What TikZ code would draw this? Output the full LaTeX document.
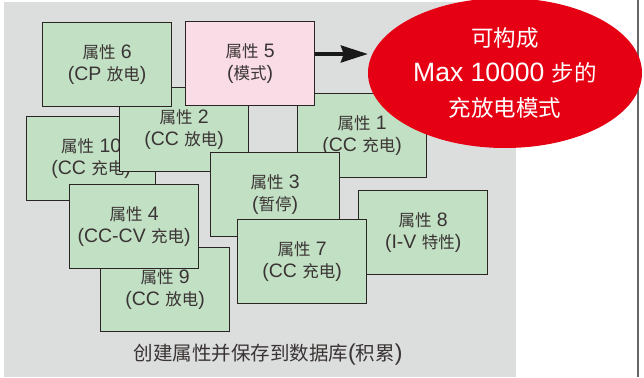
\documentclass[tikz,border=0pt]{standalone}
\usepackage{fontspec}
\setmainfont{Noto Sans CJK SC}
\newfontfamily\latn[Scale=1.18]{Liberation Sans}
\newcommand\lt[1]{{\latn #1}}
\usetikzlibrary{arrows.meta,shapes.geometric}
\definecolor{bggray}{HTML}{DCDDDD}
\definecolor{boxgreen}{HTML}{C2E0C4}
\definecolor{boxpink}{HTML}{F9DCE6}
\definecolor{edge}{HTML}{2B2424}
\definecolor{txt}{HTML}{3A3434}
\definecolor{bigred}{HTML}{E60014}
\tikzset{
  attr/.style={draw=edge, line width=1.3pt, fill=boxgreen, anchor=north west,
    minimum width=129pt, minimum height=84pt, inner sep=0pt, align=center,
    text=txt, font=\fontsize{16.5}{22}\selectfont},
  modebox/.style={attr, fill=boxpink},
  bigarrow/.style={draw=black!90, line width=3.5pt, -{Stealth[length=27pt,width=17pt,inset=3pt]}},
}
\begin{document}
\begin{tikzpicture}[x=1pt,y=-1pt]
\useasboundingbox (0,0) rectangle (644,377);
\fill[white] (0,0) rectangle (644,377);
\fill[bggray] (4,2) rectangle (516,377);
\draw[gray!80!black, line width=1.3pt] (638,0) -- (638,377);
\node[attr] (b10) at (26,116) {属性\lt{ 10}\\\lt{(CC }充电\lt{)}};
\node[attr] (b1) at (297,93) {属性\lt{ 1}\\\lt{(CC }充电\lt{)}};
\node[attr] (b2) at (119,87) {属性\lt{ 2}\\\lt{(CC }放电\lt{)}};
\node[attr] (b6) at (42,22) {属性\lt{ 6}\\\lt{(CP }放电\lt{)}};
\node[modebox] (b5) at (185,21) {属性\lt{ 5}\\\lt{(}模式\lt{)}};
\node[attr] (b3) at (210,152) {属性\lt{ 3}\\\lt{(}暂停\lt{)}};
\node[attr] (b8) at (358,190) {属性\lt{ 8}\\\lt{(I-V }特性\lt{)}};
\node[attr] (b7) at (237,219) {属性\lt{ 7}\\\lt{(CC }充电\lt{)}};
\node[attr] (b9) at (100,247) {属性\lt{ 9}\\\lt{(CC }放电\lt{)}};
\node[attr] (b4) at (69,184) {属性\lt{ 4}\\\lt{(CC-CV }充电\lt{)}};
\node[ellipse, fill=bigred, minimum width=274pt, minimum height=150pt, inner sep=0pt,
  text=white, align=center, font=\fontsize{22.5}{35}\selectfont] (ell) at (505,73)
  {可构成\\\lt{Max 10000 }步的\\充放电模式};
\draw[bigarrow] (b5.east |- 0,54) -- (ell.west |- 0,54);
\node[text=txt, font=\fontsize{19.5}{22}\selectfont] (cap) at (268,355) {创建属性并保存到数据库\lt{(}积累\lt{)}};
\end{tikzpicture}
\end{document}
